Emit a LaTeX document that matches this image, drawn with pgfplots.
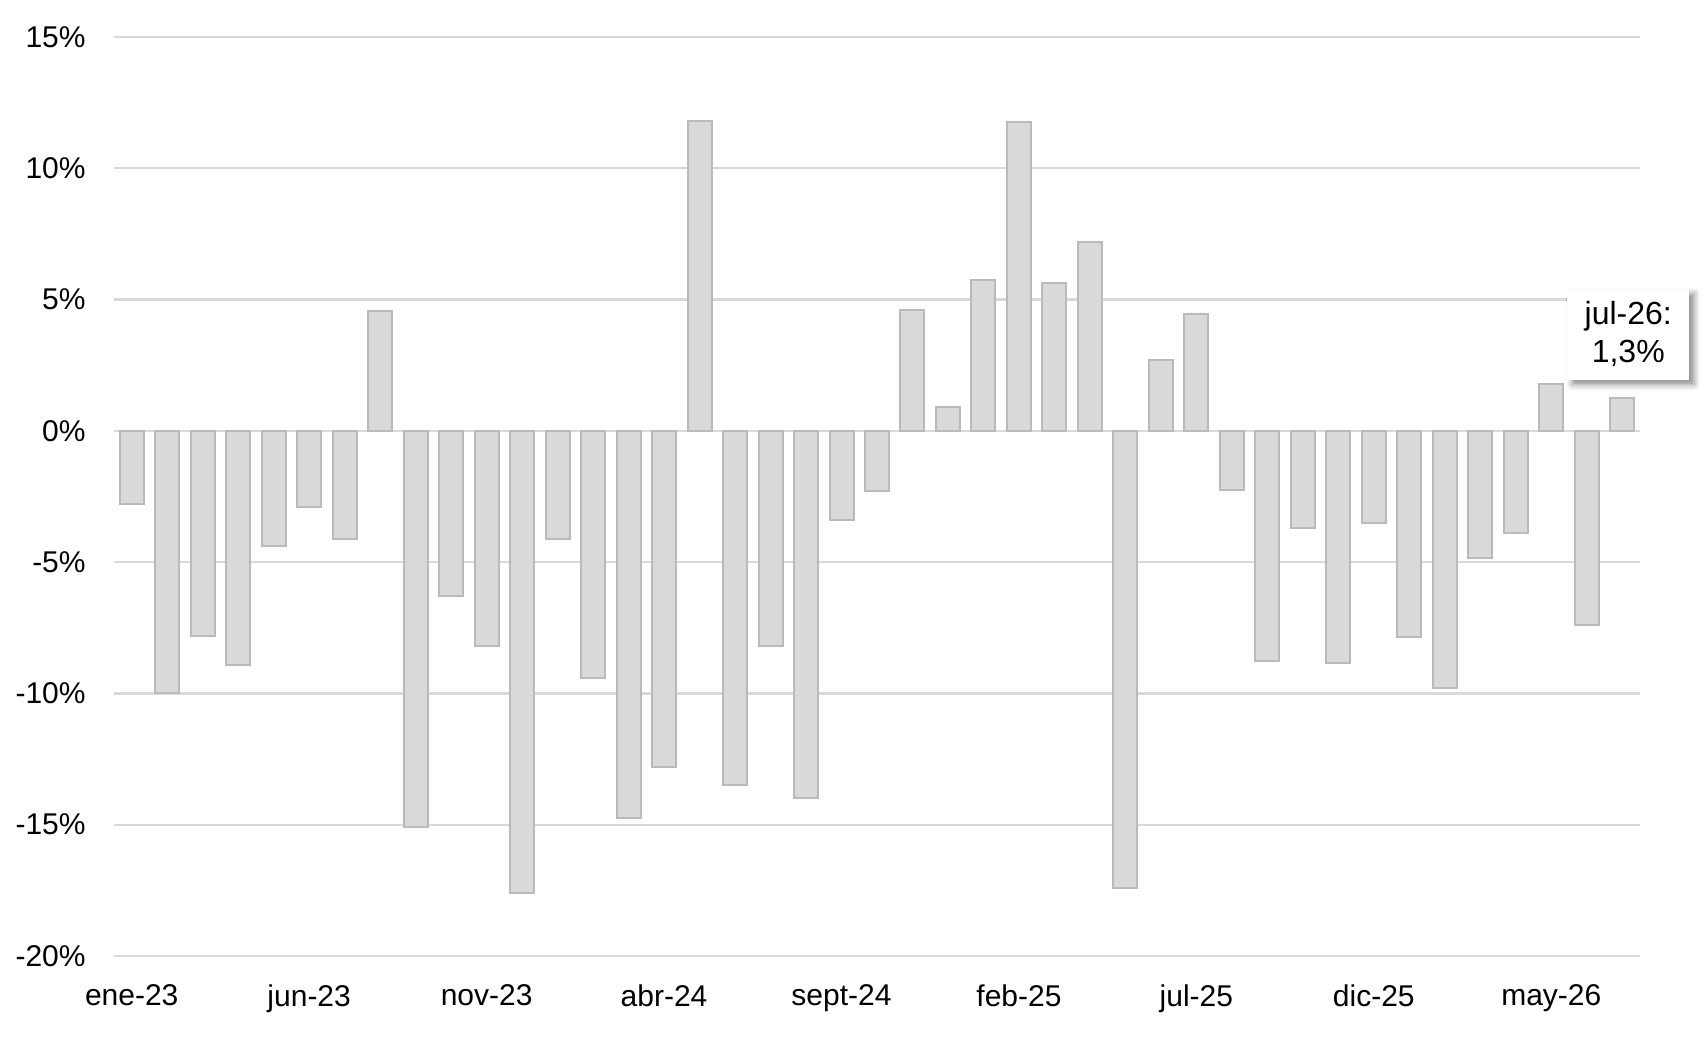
\documentclass[border=0pt]{standalone}
\usepackage{pgfplots}
\pgfplotsset{compat=1.18}
\usepackage{fontspec}
\setmainfont{Liberation Sans}
\usetikzlibrary{shadows.blur}
\definecolor{barfill}{HTML}{D9D9D9}
\definecolor{baredge}{HTML}{BABABA}
\definecolor{gridc}{HTML}{D9D9D9}
\begin{document}
\fontsize{15}{18}\selectfont
\begin{tikzpicture}
\useasboundingbox (0,0) rectangle (852.5pt,522.5pt);
\begin{axis}[
  at={(57pt,44.5pt)}, anchor=south west,
  width=763pt, height=459.5pt, scale only axis,
  clip=false,
  xmin=-0.5, xmax=42.5,
  ymin=-20, ymax=15,
  axis line style={draw=none},
  major tick length=0pt,
  ymajorgrids, grid style={gridc, line width=1.15pt},
  ytick={-20,-15,...,15},
  yticklabels={-20\%,-15\%,-10\%,-5\%,0\%,5\%,10\%,15\%},
  xtick={0,5,...,40},
  xticklabels={ene-23,jun-23,nov-23,abr-24,sept-24,feb-25,jul-25,dic-25,may-26},
  ticklabel style={font=\fontsize{15}{18}\selectfont, text=black},
  yticklabel style={xshift=-9pt},
  xticklabel style={yshift=-9pt},
  ybar, bar width=12pt,
]
\addplot[fill=barfill, draw=baredge, line width=1pt] coordinates {
(0,-2.8) (1,-10.0) (2,-7.8) (3,-8.9) (4,-4.4) (5,-2.9) (6,-4.1) (7,4.55)
(8,-15.1) (9,-6.3) (10,-8.2) (11,-17.6) (12,-4.1) (13,-9.4) (14,-14.75) (15,-12.8)
(16,11.8) (17,-13.5) (18,-8.2) (19,-14.0) (20,-3.4) (21,-2.3) (22,4.6) (23,0.9)
(24,5.75) (25,11.75) (26,5.65) (27,7.2) (28,-17.4) (29,2.7) (30,4.45) (31,-2.25)
(32,-8.75) (33,-3.7) (34,-8.85) (35,-3.5) (36,-7.85) (37,-9.8) (38,-4.85) (39,-3.9)
(40,1.8) (41,-7.4) (42,1.25)
};
\node[fill=white, blur shadow={shadow xshift=2.5pt, shadow yshift=-2.5pt, shadow blur radius=3pt, shadow opacity=45},
  align=center, minimum width=61pt, minimum height=45.5pt, anchor=south, inner sep=0pt,
  font=\fontsize{16}{19}\selectfont, yshift=9pt, xshift=3pt]
  at (axis cs:42,1.25) {jul-26:\\1,3\%};
\end{axis}
\end{tikzpicture}
\end{document}
